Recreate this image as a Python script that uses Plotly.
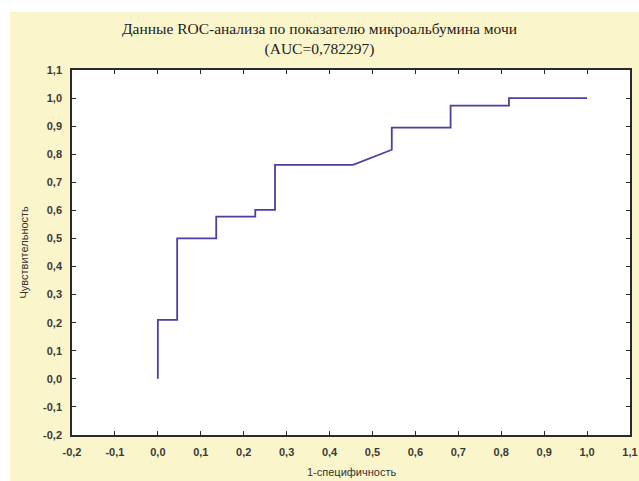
import plotly.graph_objects as go

# ROC curve points (1-specificity, sensitivity)
fpr = [0.0, 0.0, 0.045, 0.045, 0.136, 0.136, 0.227, 0.227, 0.273, 0.273, 0.455, 0.545, 0.545, 0.682, 0.682, 0.818, 0.818, 1.0]
tpr = [0.0, 0.21, 0.21, 0.50, 0.50, 0.578, 0.578, 0.602, 0.602, 0.762, 0.762, 0.816, 0.895, 0.895, 0.973, 0.973, 1.0, 1.0]

tick_vals = [-0.2, -0.1, 0.0, 0.1, 0.2, 0.3, 0.4, 0.5, 0.6, 0.7, 0.8, 0.9, 1.0, 1.1]
tick_text = ["-0,2", "-0,1", "0,0", "0,1", "0,2", "0,3", "0,4", "0,5", "0,6", "0,7", "0,8", "0,9", "1,0", "1,1"]

title_text = "Данные ROC-анализа по показателю микроальбумина мочи<br>(AUC=0,782297)"
x_title = "1-специфичность"
y_title = "Чувствительность"

W, H = 639, 481
L, R, T, B = 72, 9, 70, 46
pw, ph = W - L - R, H - T - B

def px_x(p):
    return (p - L) / pw

def px_y(p):
    return (H - B - p) / ph

fig = go.Figure()
fig.add_trace(go.Scatter(x=fpr, y=tpr, mode="lines",
                         line=dict(color="#4B3FA0", width=1.8),
                         showlegend=False, hoverinfo="x+y"))

tick_font = dict(family="Liberation Sans, Arial", size=11, color="#3a3a3a", weight="bold")
label_font = dict(family="Liberation Sans, Arial", size=11, color="#333333")

axis_common = dict(
    tickmode="array", tickvals=tick_vals, ticktext=tick_text,
    range=[-0.2, 1.1], showgrid=False, zeroline=False,
    showline=True, linecolor="#2a2a2a", linewidth=1.5,
    mirror="allticks", ticks="inside", ticklen=4, tickwidth=1, tickcolor="#2a2a2a",
    tickfont=tick_font, automargin=False, ticklabelstandoff=6,
)

fig.update_layout(
    width=W, height=H,
    margin=dict(l=L, r=R, t=T, b=B, autoexpand=False),
    paper_bgcolor="white", plot_bgcolor="white",
    xaxis=dict(**axis_common),
    yaxis=dict(**axis_common),
    title=dict(text=title_text, x=0.5, xanchor="center", y=1 - 34 / H, yanchor="top",
               font=dict(family="Liberation Serif, Times New Roman", size=15.5, color="#222222")),
    annotations=[
        dict(text=x_title, xref="paper", yref="paper", x=0.5, y=px_y(472),
             xanchor="center", yanchor="middle", showarrow=False, font=label_font),
        dict(text=y_title, xref="paper", yref="paper", x=px_x(23), y=0.5,
             xanchor="center", yanchor="middle", showarrow=False, textangle=-90, font=label_font),
    ],
    shapes=[
        dict(type="rect", xref="paper", yref="paper", layer="below",
             x0=px_x(10), x1=px_x(W + 5), y0=px_y(12), y1=px_y(H + 5),
             fillcolor="#FBF5CC", line=dict(width=0)),
        dict(type="rect", xref="paper", yref="paper", layer="below",
             x0=0, x1=1, y0=0, y1=1,
             fillcolor="white", line=dict(width=0)),
    ],
)

fig.write_html("out.html")
